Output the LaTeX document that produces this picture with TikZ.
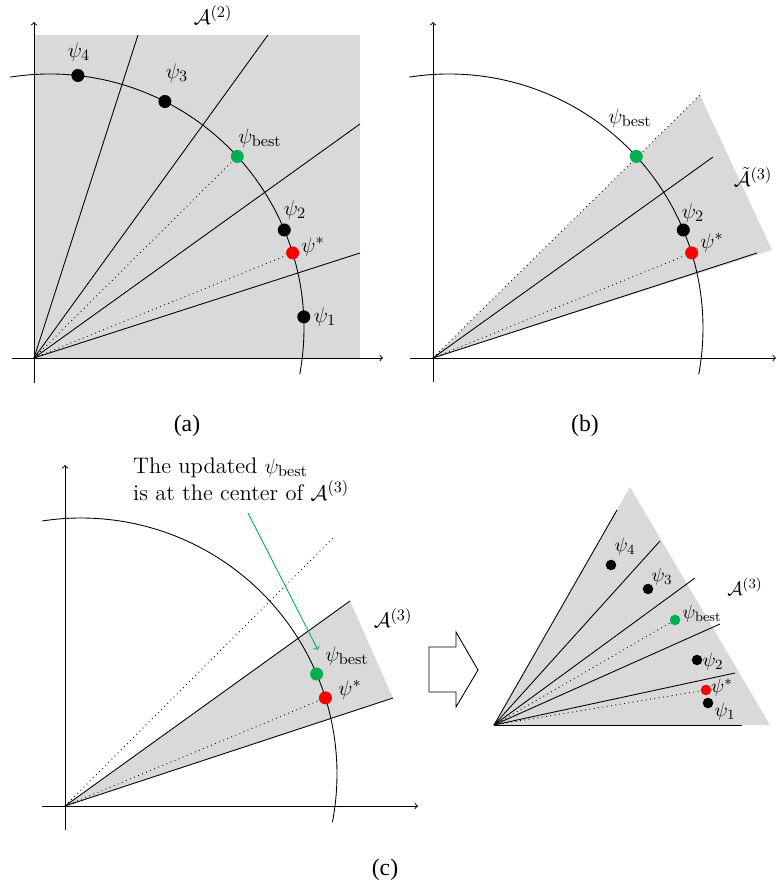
\documentclass[tikz,border=0pt]{standalone}
\usepackage{fontspec}
\newfontfamily\capfont{Liberation Serif}
\definecolor{regiongray}{RGB}{217,217,217}
\definecolor{bestgreen}{RGB}{0,176,80}
\definecolor{stargred}{RGB}{255,0,0}

\begin{document}
\begin{tikzpicture}[x=0.02cm,y=0.02cm,
  font=\fontsize{12.8}{15.4}\selectfont,
  axisline/.style={->,line width=0.5pt},
  rayline/.style={line width=0.5pt},
  guide/.style={dotted,line width=0.5pt},
  bigdot/.style={circle,inner sep=0pt,minimum size=7.4pt,fill=#1},
  smalldot/.style={circle,inner sep=0pt,minimum size=6pt,fill=#1},
  caption/.style={font=\capfont\fontsize{13.5}{16}\selectfont},
  tinylabel/.style={font=\fontsize{11}{13}\selectfont}]
\useasboundingbox (0,0) rectangle (777,890);

% (a)
\begin{scope}[shift={(34,532)}]
\fill[regiongray] (0,0) rectangle (326,323);
\coordinate (oa) at (0,0);
\draw[axisline] (-22,0) -- (349,0);
\draw[axisline] (0,-25) -- (0,336);
\draw[rayline] ([shift={(99:254)}]16,30) arc[start angle=99,end angle=-10.5,radius=254];

\draw[rayline] (oa) -- (104,323);
\draw[rayline] (oa) -- (234,323);
\draw[rayline] (oa) -- (326,234);
\draw[rayline] (oa) -- (326,105);

\node[bigdot=black] (pa4) at (43.9,282.5) {};
\node[bigdot=black] (pa3) at (130.9,256.5) {};
\node[bigdot=bestgreen] (pabest) at (203.3,201.6) {};
\node[bigdot=black] (pa2) at (250.3,128) {};
\node[bigdot=stargred] (pastar) at (258.6,105.1) {};
\node[bigdot=black] (pa1) at (269.8,41.1) {};
\draw[guide] (oa) -- (pabest);
\draw[guide] (oa) -- (pastar);

\node (la4) at (45,306) {$\psi_4$};
\node (la3) at (143,285) {$\psi_3$};
\node (labest) at (226,220) {$\psi_{\rm best}$};
\node (la2) at (261,148) {$\psi_2$};
\node (lastar) at (279,111) {$\psi^*$};
\node (la1) at (291,41) {$\psi_1$};
\node (laA) at (179,343) {$\mathcal{A}^{(2)}$};
\end{scope}
\node[caption] (capa) at (187,464) {(a)};

% (b)
\begin{scope}[shift={(433,532)}]
\fill[regiongray] (0,0) -- (267,263) -- (339,108) -- cycle;
\coordinate (ob) at (0,0);
\draw[axisline] (-23,0) -- (343,0);
\draw[axisline] (0,-24) -- (0,336);
\draw[rayline] ([shift={(99:254)}]16,30) arc[start angle=99,end angle=-10.5,radius=254];

\draw[guide] (ob) -- (267,263);
\draw[rayline] (ob) -- (280,201);
\draw[rayline] (ob) -- (324,105);

\node[bigdot=bestgreen] (pbbest) at (203.3,201.6) {};
\node[bigdot=black] (pb2) at (250.3,128) {};
\node[bigdot=stargred] (pbstar) at (258.6,105.1) {};
\draw[guide] (ob) -- (pbstar);

\node (lbbest) at (197,240) {$\psi_{\rm best}$};
\node (lb2) at (260,145) {$\psi_2$};
\node (lbstar) at (279,115) {$\psi^*$};
\node (lbA) at (320,181) {$\tilde{\mathcal{A}}^{(3)}$};
\end{scope}
\node[caption] (capb) at (585,464) {(b)};

% (c)
\begin{scope}[shift={(65,84)}]
\fill[regiongray] (0,0) -- (285,205) -- (328,108) -- cycle;
\coordinate (oc) at (0,0);
\draw[axisline] (-23,0) -- (353,0);
\draw[axisline] (0,-24) -- (0,341);
\draw[rayline] ([shift={(98.7:256)}]16,32) arc[start angle=98.7,end angle=-10.9,radius=256];

\draw[guide] (oc) -- (268,268);
\draw[rayline] (oc) -- (285,205);
\draw[rayline] (oc) -- (328,108);

\node[bigdot=bestgreen] (pcbest) at (251.6,132) {};
\node[bigdot=stargred] (pcstar) at (260.4,108.1) {};
\draw[guide] (oc) -- (pcstar);

\node (lcbest) at (282,150) {$\psi_{\rm best}$};
\node (lcstar) at (285,116) {$\psi^*$};
\node (lcA) at (328,188) {$\mathcal{A}^{(3)}$};

\node[align=left,anchor=west] (note) at (62,327)
  {The updated $\psi_{\rm best}$\\is at the center of $\mathcal{A}^{(3)}$};
\coordinate (notetail) at (183,293);
\coordinate (notehead) at (253,156);
\draw[->,bestgreen,line width=0.5pt] (notetail) -- (notehead);
\end{scope}

% block arrow
\draw[line width=0.5pt] (429,243) -- (456,243) -- (456,258) -- (478,220)
  -- (456,183) -- (456,198) -- (429,198) -- cycle;

% enlarged A^(3)
\begin{scope}[shift={(494,165)}]
\fill[regiongray] (0,0) -- (136,238) -- (276,0) -- cycle;
\coordinate (od) at (0,0);
\draw[rayline] (od) -- (123,215);
\draw[rayline] (od) -- (166,184);
\draw[rayline] (od) -- (201,147);
\draw[rayline] (od) -- (226,101);
\draw[rayline] (od) -- (241,52);
\draw[rayline] (od) -- (248,0);

\node[smalldot=black] (pd4) at (117,160) {};
\node[smalldot=black] (pd3) at (154,136) {};
\node[smalldot=bestgreen] (pdbest) at (181,105) {};
\node[smalldot=black] (pd2) at (203,65) {};
\node[smalldot=stargred] (pdstar) at (212,35) {};
\node[smalldot=black] (pd1) at (214,22) {};
\draw[guide] (od) -- (pdbest);
\draw[guide] (od) -- (pdstar);

\node[tinylabel] (ld4) at (131,178) {$\psi_4$};
\node[tinylabel] (ld3) at (168,148) {$\psi_3$};
\node[tinylabel] (ldbest) at (208,111) {$\psi_{\rm best}$};
\node[tinylabel] (ld2) at (219,63) {$\psi_2$};
\node[tinylabel] (ldstar) at (228,37) {$\psi^*$};
\node[tinylabel] (ld1) at (231,13) {$\psi_1$};
\node[tinylabel] (ldA) at (251,138) {$\mathcal{A}^{(3)}$};
\end{scope}
\node[caption] (capc) at (385,20) {(c)};
\end{tikzpicture}
\end{document}
